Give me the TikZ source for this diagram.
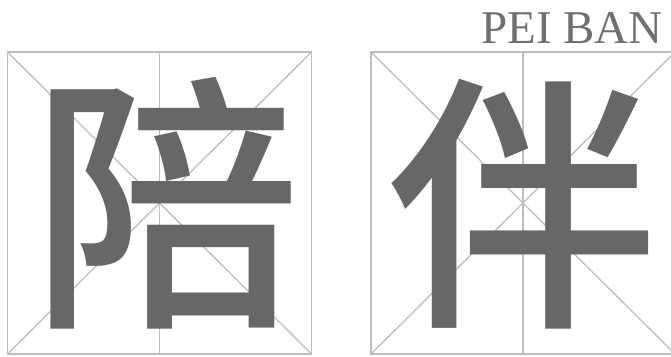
\documentclass[tikz,border=0pt]{standalone}
\usepackage{fontspec}
\setmainfont{Liberation Serif}
\newfontfamily\cjk{Noto Sans CJK SC Medium}
\definecolor{inkgray}{HTML}{676767}
\definecolor{gridgray}{HTML}{BDBDBD}
\definecolor{textgray}{HTML}{707070}
\begin{document}
\begin{tikzpicture}[x=1pt,y=1pt,
    grid/.style={draw=gridgray,line width=1.3pt},
    hanzi/.style={text=inkgray,inner sep=0pt,font=\cjk\fontsize{270}{270}\selectfont},
    pinyin/.style={text=textgray,inner sep=0pt,font=\fontsize{47}{47}\selectfont}]
  \useasboundingbox (0,0) rectangle (671,356);
  \foreach \x in {7.5,371} {
    \draw[grid] (\x,2) rectangle ++(304,302);
    \draw[grid] (\x,2) -- ++(304,302) (\x,304) -- ++(304,-302);
    \draw[grid] (\x+152,2) -- ++(0,302);
  }
  \node[hanzi] (pei) at (166,153) {陪};
  \node[hanzi] (ban) at (522,152) {伴};
  \node[pinyin,anchor=base east] (pinyin) at (663,312) {PEI BAN};
\end{tikzpicture}
\end{document}
